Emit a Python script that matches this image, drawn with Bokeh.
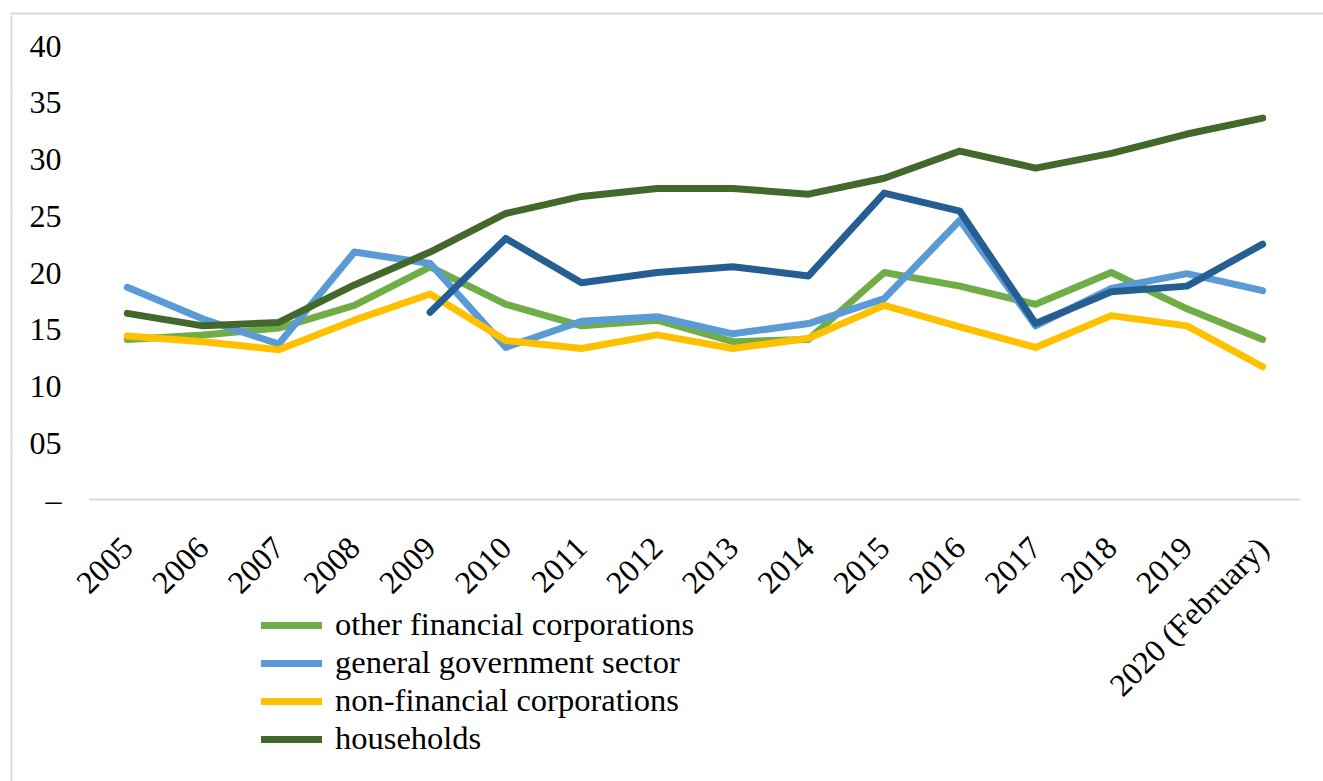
import math
from bokeh.plotting import figure
from bokeh.layouts import column, row
from bokeh.models import FactorRange, Range1d, FixedTicker, Legend, LegendItem
from bokeh.core.properties import value
from bokeh.embed import file_html
from bokeh.resources import INLINE

categories = ["2005", "2006", "2007", "2008", "2009", "2010", "2011", "2012",
              "2013", "2014", "2015", "2016", "2017", "2018", "2019", "2020 (February)"]

other_financial = [14.1, 14.5, 15.1, 17.1, 20.5, 17.2, 15.3, 15.8,
                   13.9, 14.1, 20.0, 18.8, 17.2, 20.0, 16.8, 14.1]
general_government = [18.7, 15.9, 13.7, 21.8, 20.8, 13.4, 15.7, 16.1,
                      14.6, 15.5, 17.7, 24.6, 15.3, 18.6, 19.9, 18.4]
non_financial = [14.4, 13.9, 13.2, 15.8, 18.1, 14.0, 13.3, 14.5,
                 13.3, 14.2, 17.1, 15.2, 13.4, 16.2, 15.3, 11.7]
households = [16.4, 15.3, 15.6, 18.9, 21.8, 25.2, 26.7, 27.4,
              27.4, 26.9, 28.3, 30.7, 29.2, 30.5, 32.2, 33.6]
# unlabeled dark blue series, starting in 2009
extra_categories = categories[4:]
extra_series = [16.5, 23.0, 19.1, 20.0, 20.5, 19.7, 27.0, 25.4, 15.5, 18.3, 18.8, 22.5]

y_ticks = [0, 5, 10, 15, 20, 25, 30, 35, 40]
y_tick_labels = ["–", "05", "10", "15", "20", "25", "30", "35", "40"]

series_labels = ["other financial corporations", "general government sector",
                 "non-financial corporations", "households"]

FONT = "Liberation Serif"
FS = "32px"
BORDER = "#d9d9d9"

# ---- page geometry (pixels) ----
PAGE_W, PAGE_H = 1323, 781
BX, BY = 13, 15            # space taken by the thin chart border (left, top)
W, H = PAGE_W - BX, PAGE_H - BY
LEFT = 53                  # y-axis label panel
CAT_W = 1211 / 16          # width of one category slot
PLOT_H = 454               # height of the 0..40 value band
Y_MAX = 40
ZERO_Y = 484               # canvas y of the value 0
frame_w = W - LEFT
PAD = (frame_w / CAT_W - len(categories)) / 2
px_per_unit = PLOT_H / Y_MAX
y_end = ZERO_Y / px_per_unit
y_start = -(H - ZERO_Y) / px_per_unit


def border_fig(width, height, xs, ys):
    f = figure(width=width, height=height,
               x_range=Range1d(0, width), y_range=Range1d(height, 0),
               min_border=0, x_axis_location=None, y_axis_location=None,
               output_backend="svg", toolbar_location=None)
    f.outline_line_color = None
    f.xgrid.grid_line_color = None
    f.ygrid.grid_line_color = None
    f.multi_line(xs, ys, line_color=BORDER, line_width=2)
    return f


top_border = border_fig(PAGE_W, BY, [[11, PAGE_W], [11, 11]], [[13, 13], [12, BY]])
left_border = border_fig(BX, H, [[11, 11]], [[0, H]])

p = figure(x_range=FactorRange(*categories, range_padding=PAD,
                               range_padding_units="absolute"),
           y_range=Range1d(y_start, y_end),
           width=W, height=H,
           min_border_left=LEFT, min_border_right=0,
           min_border_top=0, min_border_bottom=0,
           output_backend="svg", toolbar_location=None)
p.outline_line_color = None
p.xgrid.grid_line_color = None
p.ygrid.grid_line_color = None

# x axis line across the category band
p.segment(x0=[0], y0=[0], x1=[len(categories)], y1=[0],
          line_color=BORDER, line_width=2)

lw = 7
common = dict(line_width=lw, line_join="round", line_cap="round")
r1 = p.line(categories, other_financial, line_color="#70AD47", **common)
r2 = p.line(categories, general_government, line_color="#5B9BD5", **common)
r3 = p.line(categories, non_financial, line_color="#FFC000", **common)
r4 = p.line(categories, households, line_color="#43682B", **common)
r5 = p.line(extra_categories, extra_series, line_color="#255E91", **common)

# y axis
p.yaxis.ticker = FixedTicker(ticks=y_ticks)
p.yaxis.major_label_overrides = {t: l for t, l in zip(y_ticks, y_tick_labels)}
p.yaxis.axis_line_color = None
p.yaxis.major_tick_line_color = None
p.yaxis.minor_tick_line_color = None
p.yaxis.major_tick_out = 0
p.yaxis.major_tick_in = 0
p.yaxis.major_label_standoff = 5
p.yaxis.major_label_text_font = FONT
p.yaxis.major_label_text_font_size = FS
p.yaxis.major_label_text_color = "#000000"

# x axis: category labels rotated 45 degrees
p.xaxis.visible = False
p.text(x=categories, y=[0] * len(categories), text=categories,
       angle=math.pi / 4, text_align="right", text_baseline="middle",
       x_offset=0, y_offset=43,
       text_font=value(FONT), text_font_size=FS, text_color="#000000")

legend = Legend(items=[LegendItem(label=series_labels[0], renderers=[r1]),
                       LegendItem(label=series_labels[1], renderers=[r2]),
                       LegendItem(label=series_labels[2], renderers=[r3]),
                       LegendItem(label=series_labels[3], renderers=[r4])],
                location=(195, 24), orientation="vertical",
                padding=0, margin=0, spacing=1,
                glyph_width=61, glyph_height=36, label_height=36,
                label_standoff=13,
                label_text_font=FONT, label_text_font_size="32.5px",
                label_text_color="#000000",
                border_line_color=None, background_fill_alpha=0)
p.add_layout(legend, "center")

page = column(top_border, row(left_border, p, spacing=0), spacing=0)

open("out.html", "w").write(file_html(page, INLINE))
